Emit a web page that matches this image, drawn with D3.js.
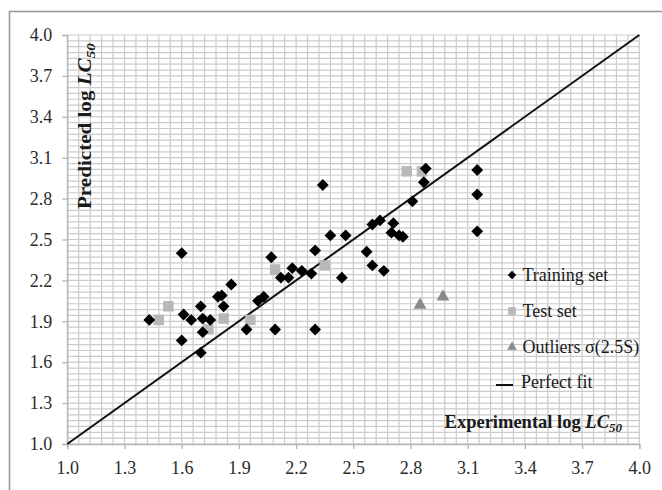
<!DOCTYPE html>
<html>
<head>
<meta charset="utf-8">
<script src="https://cdn.jsdelivr.net/npm/d3@7"></script>
<style>
html,body{margin:0;padding:0;background:#fff;}
svg{display:block;}
</style>
</head>
<body>
<svg id="chart" width="662" height="490"></svg>
<script>
// ---- data ----
const trainX = [1.43,1.60,1.60,1.61,1.65,1.70,1.71,1.75,1.71,1.70,1.79,1.81,1.82,1.86,1.94,2.00,2.03,2.07,2.09,2.12,2.16,2.18,2.23,2.28,2.30,2.30,2.34,2.38,2.46,2.44,2.57,2.60,2.66,2.60,2.64,2.71,2.70,2.74,2.76,2.81,2.87,2.88,3.15,3.15,3.15];
const trainY = [1.91,2.40,1.76,1.95,1.91,2.01,1.92,1.91,1.82,1.67,2.08,2.09,2.01,2.17,1.84,2.05,2.08,2.37,1.84,2.22,2.22,2.29,2.27,2.25,1.84,2.42,2.90,2.53,2.53,2.22,2.41,2.31,2.27,2.61,2.64,2.62,2.55,2.53,2.52,2.78,2.92,3.02,3.01,2.83,2.56];
const testX = [1.48,1.53,1.74,1.82,1.96,2.09,2.35,2.78,2.86];
const testY = [1.91,2.01,1.84,1.92,1.91,2.28,2.31,3.00,3.00];
const outX = [2.85,2.97];
const outY = [2.02,2.08];
const fitLine = [1.0, 4.0];
const tickValues = [1.0,1.3,1.6,1.9,2.2,2.5,2.8,3.1,3.4,3.7,4.0];
const tickLabels = ["1.0","1.3","1.6","1.9","2.2","2.5","2.8","3.1","3.4","3.7","4.0"];
const legendLabels = ["Training set","Test set","Outliers σ(2.5S)","Perfect fit"];

// ---- layout ----
const svg = d3.select("#chart");
const L = 67.3, R = 639.3, T = 35, B = 444;
const x = d3.scaleLinear().domain([1,4]).range([L,R]);
const y = d3.scaleLinear().domain([1,4]).range([B,T]);

// outer frame
svg.append("rect").attr("x",9.5).attr("y",11.5).attr("width",700).attr("height",500)
  .attr("fill","none").attr("stroke","#9a9a9a").attr("stroke-width",1.6);

// grid
const gridColor = "#cbcbcb";
const xMinor = d3.range(0,51).map(i => 1 + i*0.06);
const yMinor = d3.range(0,71).map(i => 1 + i*0.3/7);
const g = svg.append("g");
g.selectAll(".vx").data(xMinor).join("line")
  .attr("x1",d=>x(d)).attr("x2",d=>x(d)).attr("y1",T).attr("y2",B)
  .attr("stroke",gridColor).attr("stroke-width",1.2);
g.selectAll(".hy").data(yMinor).join("line")
  .attr("y1",d=>y(d)).attr("y2",d=>y(d)).attr("x1",L).attr("x2",R)
  .attr("stroke",gridColor).attr("stroke-width",1.2);

// axes
const xAxis = d3.axisBottom(x).tickValues(tickValues).tickFormat((d,i)=>tickLabels[i]).tickSize(5).tickPadding(8);
const yAxis = d3.axisLeft(y).tickValues(tickValues).tickFormat((d,i)=>tickLabels[i]).tickSize(5).tickPadding(10);
const gx = svg.append("g").attr("transform",`translate(0,${B})`).call(xAxis);
const gy = svg.append("g").attr("transform",`translate(${L},0)`).call(yAxis);
[gx,gy].forEach(a=>{
  a.select(".domain").attr("stroke","#b5b5b5").attr("stroke-width",1.3);
  a.selectAll(".tick line").attr("stroke","#b5b5b5").attr("stroke-width",1.3);
  a.selectAll(".tick text").attr("fill","#2a2a2a").style("font-family","'Liberation Serif','Times New Roman',serif").style("font-size","18px");
});
gx.selectAll(".tick text").attr("dy","0.95em");

// perfect fit line
svg.append("line").attr("x1",x(fitLine[0])).attr("y1",y(fitLine[0])).attr("x2",x(fitLine[1])).attr("y2",y(fitLine[1]))
  .attr("stroke","#111").attr("stroke-width",2);

// markers
const diamond = d3.symbol().type(d3.symbolSquare).size(70);
const square = d3.symbol().type(d3.symbolSquare).size(110);
const tri = d3.symbol().type(d3.symbolTriangle).size(72);

svg.append("g").selectAll("path").data(testX.map((v,i)=>[v,testY[i]])).join("path")
  .attr("d",square).attr("transform",d=>`translate(${x(d[0])},${y(d[1])})`).attr("fill","#b8b8b8");
svg.append("g").selectAll("path").data(trainX.map((v,i)=>[v,trainY[i]])).join("path")
  .attr("d",diamond).attr("transform",d=>`translate(${x(d[0])},${y(d[1])}) rotate(45)`).attr("fill","#000");
svg.append("g").selectAll("path").data(outX.map((v,i)=>[v,outY[i]])).join("path")
  .attr("d",tri).attr("transform",d=>`translate(${x(d[0])},${y(d[1])})`).attr("fill","#8a8a8a");

// legend
const font = "'Liberation Serif','Times New Roman',serif";
const leg = svg.append("g");
const rowsY = [275,311,347,382];
leg.append("path").attr("d",d3.symbol().type(d3.symbolSquare).size(36)).attr("transform",`translate(512,${rowsY[0]}) rotate(45)`).attr("fill","#000");
leg.append("path").attr("d",d3.symbol().type(d3.symbolSquare).size(60)).attr("transform",`translate(512,${rowsY[1]})`).attr("fill","#b8b8b8");
leg.append("path").attr("d",d3.symbol().type(d3.symbolTriangle).size(40)).attr("transform",`translate(512,${rowsY[2]})`).attr("fill","#8a8a8a");
leg.append("line").attr("x1",496).attr("x2",513).attr("y1",rowsY[3]+3).attr("y2",rowsY[3]+3).attr("stroke","#111").attr("stroke-width",2);
legendLabels.forEach((t,i)=>{
  leg.append("text").attr("x", i===3?521:522.5).attr("y",rowsY[i]).attr("dy","0.35em")
    .style("font-family",font).style("font-size","18px").attr("fill","#1a1a1a").text(t);
});

// axis titles
const xt = svg.append("text").attr("x",622).attr("y",428).attr("text-anchor","end")
  .style("font-family",font).style("font-size","18.5px").style("font-weight","bold").attr("fill","#1a1a1a");
xt.append("tspan").text("Experimental log ");
xt.append("tspan").style("font-style","italic").text("LC");
xt.append("tspan").style("font-style","italic").style("font-size","13px").attr("dy",4).text("50");

const yt = svg.append("text").attr("text-anchor","start")
  .style("font-family",font).style("font-size","18px").style("font-weight","bold").attr("fill","#1a1a1a");
yt.append("tspan").text("Predicted log ");
yt.append("tspan").style("font-style","italic").text("LC");
yt.append("tspan").style("font-style","italic").style("font-size","13px").attr("dy",4).text("50");
const ytLen = yt.node().getComputedTextLength() || 114;
yt.attr("transform",`translate(91,209) rotate(-90) scale(${166/ytLen},1)`);
</script>
</body>
</html>
